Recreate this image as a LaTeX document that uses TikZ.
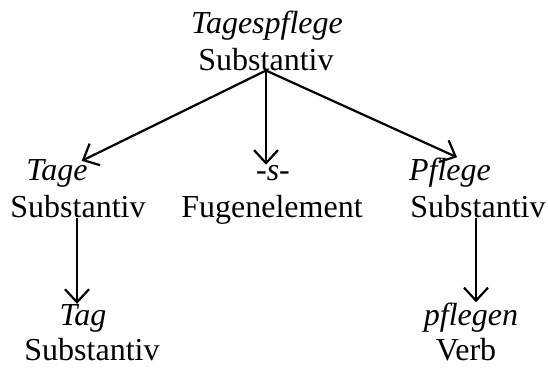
\documentclass[tikz,border=0pt]{standalone}
\usepackage{fontspec}
\setmainfont{Liberation Serif}
\usetikzlibrary{arrows.meta}
\tikzset{
  word/.style={anchor=base, inner sep=0pt, font=\fontsize{32}{38}\selectfont\itshape},
  cat/.style={anchor=base, inner sep=0pt, font=\fontsize{32}{38}\selectfont},
  link/.style={line width=2.2pt, -{Straight Barb[length=13pt,width=24pt,line width=2.2pt]}}
}
\begin{document}
\begin{tikzpicture}[x=1pt,y=-1pt]
\useasboundingbox (0,0) rectangle (548,367);
% top
\node[word] (topw) at (267,33) {Tagespflege};
\node[cat]  (topc) at (266,70) {Substantiv};
% middle row
\node[word] (tagew) at (57,180) {Tage};
\node[cat]  (tagec) at (78,217) {Substantiv};
\node[word] (sw) at (273,180) {-s-};
\node[cat]  (sc) at (272,217) {Fugenelement};
\node[word] (pflw) at (450,180) {Pflege};
\node[cat]  (pflc) at (478,217) {Substantiv};
% bottom row
\node[word] (tagw) at (83,325) {Tag};
\node[cat]  (tagc) at (92,360) {Substantiv};
\node[word] (pfgw) at (471,325) {pflegen};
\node[cat]  (pfgc) at (466,360) {Verb};
% connectors
\draw[link] (topc.south) -- ([shift={(-6,2)}]tagew.north east);
\draw[link] (topc.south) -- (topc.south |- sw.north);
\draw[link] (topc.south) -- ([xshift=7]pflw.north);
\draw[link] ([xshift=-1]tagec.south) -- ([xshift=-1]tagec.south |- tagw.north);
\draw[link] ([xshift=-2]pflc.south) -- ([xshift=-2]pflc.south |- pfgw.north);
\end{tikzpicture}
\end{document}
